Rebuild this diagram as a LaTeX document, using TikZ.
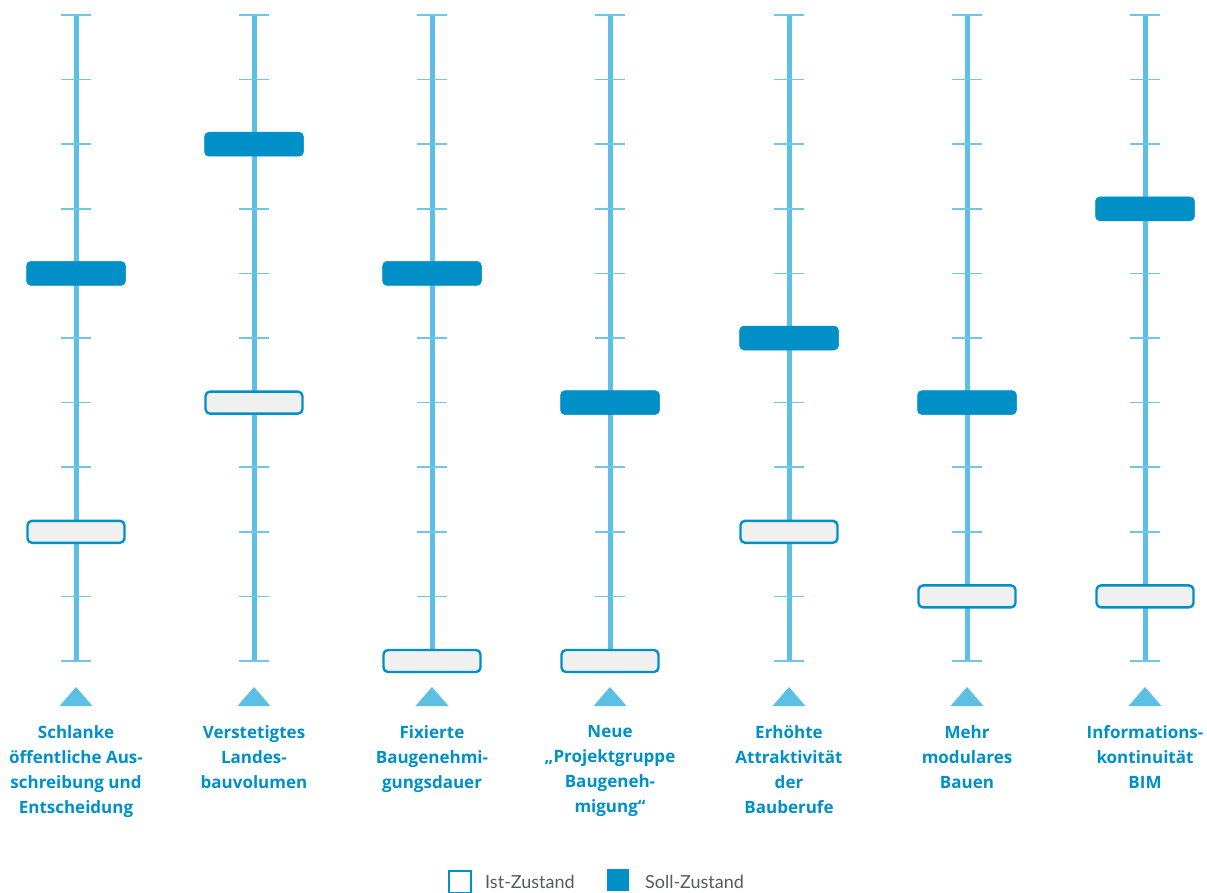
\documentclass[tikz,border=0pt]{standalone}
\usepackage{fontspec}
\setmainfont{Lato}
\newfontfamily\lblfont{Open Sans}
\definecolor{barblue}{HTML}{5BC0E4}
\definecolor{tickblue}{HTML}{6EC7E8}
\definecolor{darkblue}{HTML}{0090C8}
\definecolor{istfill}{HTML}{F0F0EF}
\definecolor{legtext}{HTML}{58595B}
\tikzset{
  barline/.style={draw=barblue, line width=5pt},
  tickline/.style={draw=tickblue, line width=1.6pt},
  istbox/.style={draw=darkblue, fill=istfill, line width=2.4pt, rounded corners=4.5pt, minimum width=97pt, minimum height=22pt, inner sep=0pt},
  sollbox/.style={draw=darkblue, fill=darkblue, line width=0.5pt, rounded corners=4.5pt, minimum width=99pt, minimum height=24pt, inner sep=0pt},
  marker/.style={fill=barblue, draw=none},
  lbl/.style={anchor=north, inner sep=0pt, align=center, text=darkblue, font=\lblfont\bfseries\fontsize{17}{25}\selectfont},
  legbox/.style={minimum width=22pt, minimum height=22pt, inner sep=0pt, anchor=north west},
  legtxt/.style={anchor=west, inner sep=0pt, text=legtext, font=\fontsize{18}{20}\selectfont}
}
\begin{document}
\begin{tikzpicture}[x=1pt,y=-1pt]
\useasboundingbox (0,0) rectangle (1207,892);
% columns: index, x, soll level, ist level
\foreach \c/\xx/\s/\t in {1/76/6/2, 2/254/8/4, 3/432/6/0, 4/610/4/0, 5/789/5/2, 6/967/4/1, 7/1145/7/1}{
  \coordinate (top\c) at (\xx,15);
  \coordinate (bot\c) at (\xx,661);
  \path[barline] (top\c) -- (bot\c);
  \foreach \k in {0,...,10}{
    \path[tickline] (\xx-15,{15+\k*64.6}) -- (\xx+15,{15+\k*64.6});
  }
  \node[istbox] (ist\c) at (\xx,{661-\t*64.6}) {};
  \node[sollbox] (soll\c) at (\xx,{661-\s*64.6}) {};
  \path[marker] (\xx,687) -- (\xx+16.5,706) -- (\xx-16.5,706) -- cycle;
}
\node[lbl] (l1) at (76,725) {Schlanke\\öffentliche Aus-\\schreibung und\\Entscheidung};
\node[lbl] (l2) at (254,725) {Verstetigtes\\Landes-\\bauvolumen};
\node[lbl] (l3) at (432,725) {Fixierte\\Baugenehmi-\\gungsdauer};
\node[lbl] (l4) at (610,725) {Neue\\„Projektgruppe\\Baugeneh-\\migung“};
\node[lbl] (l5) at (789,725) {Erhöhte\\Attraktivität\\der\\Bauberufe};
\node[lbl] (l6) at (967,725) {Mehr\\modulares\\Bauen};
\node[lbl] (l7) at (1145,725) {Informations-\\kontinuität\\BIM};
% legend
\node[legbox, draw=darkblue, line width=2pt] (legist) at (448,870) {};
\node[legtxt] (legisttxt) at (485,882) {Ist-Zustand};
\node[legbox, fill=darkblue] (legsoll) at (607,869) {};
\node[legtxt] (legsolltxt) at (645,882) {Soll-Zustand};
\end{tikzpicture}
\end{document}
